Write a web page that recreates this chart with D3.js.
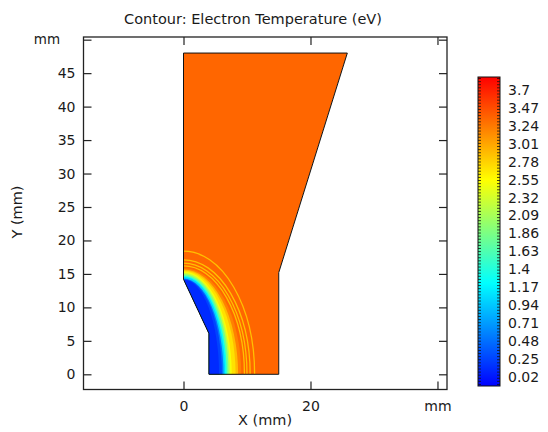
<!DOCTYPE html>
<html>
<head>
<meta charset="utf-8">
<script src="https://cdn.jsdelivr.net/npm/d3@7"></script>
<style>
  body { margin: 0; background: #fff; }
  text { font-family: "DejaVu Sans", sans-serif; fill: #1a1a1a; }
</style>
</head>
<body>
<div id="chart"></div>
<script>
// geometry of the domain (mm)
const shapeX = [0, 25.8, 15, 15, 4, 4, 0];
const shapeY = [48, 48, 15.2, 0, 0, 6.1, 14.2];

// filled contour bands: level value (eV) and semi-axes of each level curve (mm)
const bandValue = [3.2, 2.9, 2.7, 2.5, 2.2, 1.8, 1.3, 1.0, 0.5, 0.25, 0.12];
const bandRx    = [9.1, 8.6, 8.2, 7.6, 7.35, 7.1, 6.8, 6.55, 6.3, 6.05, 5.6];
const bandRy    = [15.85, 15.65, 15.5, 15.35, 15.15, 14.95, 14.7, 14.55, 14.3, 14.22, 14.12];
const fieldValue = 3.34;

// thin contour lines in the outer region
const lineRx = [9.6, 10.0, 10.5, 11.2];
const lineRy = [16.2, 16.6, 17.1, 18.4];

const yTicks = [0, 5, 10, 15, 20, 25, 30, 35, 40, 45, 50];
const xTicks = [0, 20, 40];
const cbLabels = [3.7, 3.47, 3.24, 3.01, 2.78, 2.55, 2.32, 2.09, 1.86, 1.63, 1.4, 1.17, 0.94, 0.71, 0.48, 0.25, 0.02];
const cbRange = [-0.095, 3.866];
const levelCount = 100;

const width = 548, height = 432;
const svg = d3.select("#chart").append("svg")
  .attr("width", width).attr("height", height);

const x = d3.scaleLinear().domain([-15.75, 41.5]).range([83.5, 447]);
const y = d3.scaleLinear().domain([-2.27, 50.4]).range([389.5, 37]);

// rainbow colour map
const cmap = d3.scaleLinear()
  .domain([0, 1/3, 2/3, 1].map(t => cbRange[0] + t * (cbRange[1] - cbRange[0])))
  .range(["#0000ff", "#00ffff", "#ffff00", "#ff0000"])
  .clamp(true);

const pts = shapeX.map((d, i) => [x(d), y(shapeY[i])]);
const defs = svg.append("defs");
defs.append("clipPath").attr("id", "shape")
  .append("polygon").attr("points", pts.map(p => p.join(",")).join(" "));

const plot = svg.append("g").attr("clip-path", "url(#shape)");
plot.append("polygon")
  .attr("points", pts.map(p => p.join(",")).join(" "))
  .attr("fill", cmap(fieldValue));

plot.selectAll("ellipse.band")
  .data(bandValue)
  .join("ellipse")
  .attr("class", "band")
  .attr("cx", x(0)).attr("cy", y(0))
  .attr("rx", (d, i) => x(bandRx[i]) - x(0))
  .attr("ry", (d, i) => y(0) - y(bandRy[i]))
  .attr("fill", d => cmap(d));

plot.selectAll("ellipse.line")
  .data(lineRx)
  .join("ellipse")
  .attr("class", "line")
  .attr("cx", x(0)).attr("cy", y(0))
  .attr("rx", d => x(d) - x(0))
  .attr("ry", (d, i) => y(0) - y(lineRy[i]))
  .attr("fill", "none")
  .attr("stroke", "#ffc000")
  .attr("stroke-width", 1.3);

svg.append("polygon")
  .attr("points", pts.map(p => p.join(",")).join(" "))
  .attr("fill", "none")
  .attr("stroke", "#111")
  .attr("stroke-width", 1);

// frame and axes
svg.append("rect")
  .attr("x", x.range()[0]).attr("y", y.range()[1])
  .attr("width", x.range()[1] - x.range()[0])
  .attr("height", y.range()[0] - y.range()[1])
  .attr("fill", "none").attr("stroke", "#222").attr("stroke-width", 1.3);

function styleAxis(g) {
  g.select(".domain").remove();
  g.selectAll(".tick line").attr("stroke", "#222").attr("stroke-width", 1.2);
  g.selectAll(".tick text").attr("font-size", 14).attr("fill", "#1a1a1a");
}

svg.append("g").attr("transform", `translate(${x.range()[0]},0)`)
  .call(d3.axisLeft(y).tickValues(yTicks).tickSize(-8).tickPadding(8)
    .tickFormat(d => d === 50 ? "" : d))
  .call(styleAxis);
svg.append("g").attr("transform", `translate(${x.range()[1]},0)`)
  .call(d3.axisRight(y).tickValues(yTicks).tickSize(-8).tickFormat(""))
  .call(styleAxis);
svg.append("g").attr("transform", `translate(0,${y.range()[0]})`)
  .call(d3.axisBottom(x).tickValues(xTicks).tickSize(-8).tickPadding(12)
    .tickFormat(d => d === 40 ? "mm" : d))
  .call(styleAxis);
svg.append("g").attr("transform", `translate(0,${y.range()[1]})`)
  .call(d3.axisTop(x).tickValues(xTicks).tickSize(-8).tickFormat(""))
  .call(styleAxis);

svg.append("text").attr("x", 47).attr("y", y(50)).attr("dy", "0.35em")
  .attr("text-anchor", "middle").attr("font-size", 13.5).text("mm");

svg.append("text").attr("x", 265).attr("y", 425)
  .attr("text-anchor", "middle").attr("font-size", 14.5).text("X (mm)");
svg.append("text").attr("transform", "translate(22,212) rotate(-90)")
  .attr("text-anchor", "middle").attr("font-size", 14.5).text("Y (mm)");
svg.append("text").attr("x", 253).attr("y", 24)
  .attr("text-anchor", "middle").attr("font-size", 14.5)
  .text("Contour: Electron Temperature (eV)");

// colour bar
const cbX = 478, cbW = 22;
const cy = d3.scaleLinear().domain(cbRange).range([386, 77]);
const grad = defs.append("linearGradient").attr("id", "cbgrad")
  .attr("x1", 0).attr("y1", 1).attr("x2", 0).attr("y2", 0);
cmap.domain().forEach((v, i) => {
  grad.append("stop")
    .attr("offset", (v - cbRange[0]) / (cbRange[1] - cbRange[0]))
    .attr("stop-color", cmap.range()[i]);
});
svg.append("rect")
  .attr("x", cbX).attr("y", cy(cbRange[1]))
  .attr("width", cbW).attr("height", cy(cbRange[0]) - cy(cbRange[1]))
  .attr("fill", "url(#cbgrad)");

const levels = d3.range(levelCount).map(i => cbRange[0] + (i + 0.5) * (cbRange[1] - cbRange[0]) / levelCount);
const tickG = svg.append("g").attr("stroke", "#111").attr("stroke-width", 0.8);
tickG.selectAll("line.l").data(levels).join("line")
  .attr("x1", cbX).attr("x2", cbX + 3)
  .attr("y1", d => cy(d)).attr("y2", d => cy(d));
tickG.selectAll("line.r").data(levels).join("line")
  .attr("x1", cbX + cbW - 3).attr("x2", cbX + cbW)
  .attr("y1", d => cy(d)).attr("y2", d => cy(d));

svg.append("rect")
  .attr("x", cbX).attr("y", cy(cbRange[1]))
  .attr("width", cbW).attr("height", cy(cbRange[0]) - cy(cbRange[1]))
  .attr("fill", "none").attr("stroke", "#111").attr("stroke-width", 1);

svg.append("g").selectAll("text").data(cbLabels).join("text")
  .attr("x", 508).attr("y", d => cy(d)).attr("dy", "0.35em")
  .attr("font-size", 14).text(d => d);
</script>
</body>
</html>
